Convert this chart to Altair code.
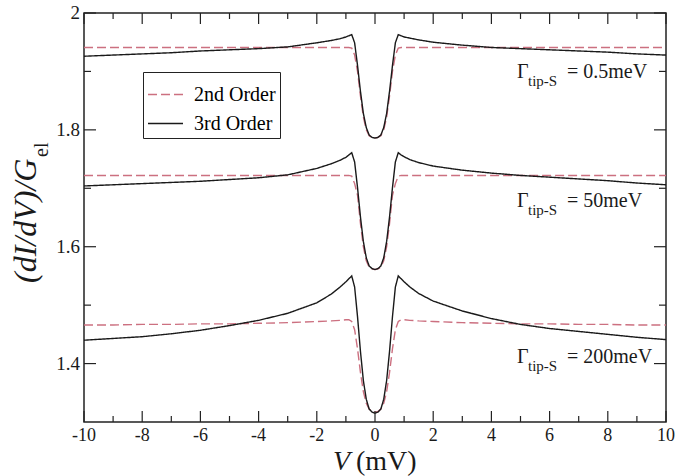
import altair as alt
import pandas as pd

# ---------------- data ----------------
V = [-10, -9, -8, -7, -6, -5, -4, -3, -2, -1.5, -1.2, -1, -0.9, -0.8, -0.7, -0.6, -0.5, -0.4, -0.3, -0.2, -0.1, 0,
     0.1, 0.2, 0.3, 0.4, 0.5, 0.6, 0.7, 0.8, 0.9, 1, 1.2, 1.5, 2, 3, 4, 5, 6, 7, 8, 9, 10]

# Gamma_tip-S = 0.5 meV
g05_3rd = [1.926, 1.928, 1.930, 1.932, 1.935, 1.937, 1.939, 1.942, 1.949, 1.953, 1.956, 1.959, 1.961, 1.963,
           1.949, 1.910, 1.866, 1.828, 1.804, 1.791, 1.787, 1.786,
           1.787, 1.791, 1.804, 1.828, 1.866, 1.910, 1.949,
           1.963, 1.961, 1.959, 1.957, 1.954, 1.950, 1.945, 1.941, 1.939, 1.937, 1.935, 1.933, 1.930, 1.928]
g05_2nd = [1.941, 1.941, 1.941, 1.941, 1.941, 1.941, 1.941, 1.941, 1.941, 1.941, 1.941, 1.941, 1.941, 1.940,
           1.928, 1.900, 1.858, 1.822, 1.800, 1.790, 1.787, 1.786,
           1.787, 1.790, 1.800, 1.822, 1.858, 1.900, 1.928,
           1.940, 1.941, 1.941, 1.941, 1.941, 1.941, 1.941, 1.941, 1.941, 1.941, 1.941, 1.941, 1.941, 1.941]

# Gamma_tip-S = 50 meV
g50_3rd = [1.704, 1.706, 1.708, 1.710, 1.712, 1.715, 1.718, 1.723, 1.734, 1.742, 1.748, 1.753, 1.757, 1.761,
           1.745, 1.701, 1.651, 1.609, 1.581, 1.567, 1.5625, 1.561,
           1.5625, 1.567, 1.581, 1.609, 1.651, 1.701, 1.745,
           1.761, 1.757, 1.754, 1.749, 1.744, 1.738, 1.731, 1.726, 1.722, 1.719, 1.716, 1.713, 1.709, 1.706]
g50_2nd = [1.722, 1.722, 1.722, 1.722, 1.722, 1.722, 1.722, 1.722, 1.722, 1.722, 1.722, 1.722, 1.722, 1.721,
           1.708, 1.688, 1.640, 1.600, 1.576, 1.565, 1.562, 1.561,
           1.562, 1.565, 1.576, 1.600, 1.640, 1.688, 1.708,
           1.721, 1.722, 1.722, 1.722, 1.722, 1.722, 1.722, 1.722, 1.722, 1.722, 1.722, 1.722, 1.722, 1.722]

# Gamma_tip-S = 200 meV
g200_3rd = [1.440, 1.443, 1.446, 1.451, 1.457, 1.465, 1.474, 1.486, 1.504, 1.519, 1.531, 1.540, 1.545, 1.550,
            1.531, 1.480, 1.421, 1.371, 1.339, 1.322, 1.317, 1.315,
            1.317, 1.322, 1.339, 1.371, 1.421, 1.480, 1.531,
            1.550, 1.545, 1.540, 1.531, 1.520, 1.507, 1.490, 1.477, 1.467, 1.460, 1.455, 1.450, 1.445, 1.441]
g200_2nd = [1.466, 1.466, 1.467, 1.467, 1.468, 1.468, 1.469, 1.470, 1.472, 1.473, 1.474, 1.475, 1.475, 1.472,
            1.458, 1.425, 1.385, 1.352, 1.332, 1.322, 1.318, 1.317,
            1.318, 1.322, 1.332, 1.352, 1.385, 1.425, 1.458,
            1.472, 1.475, 1.475, 1.474, 1.473, 1.472, 1.470, 1.469, 1.468, 1.468, 1.467, 1.467, 1.466, 1.466]

orders = ["2nd Order", "3rd Order"]
gammas = ["0.5", "50", "200"]

# annotation labels
ann_main = ["= 0.5meV", "= 50meV", "= 200meV"]
ann_x = [4.88, 4.88, 4.88]
ann_y = [1.889, 1.668, 1.401]

# tick positions and tick labels
x_major = [-10, -8, -6, -4, -2, 0, 2, 4, 6, 8, 10]
x_labels = ["-10", "-8", "-6", "-4", "-2", "0", "2", "4", "6", "8", "10"]
x_minor = [-9, -7, -5, -3, -1, 1, 3, 5, 7, 9]
y_major = [1.4, 1.6, 1.8, 2.0]
y_labels = ["1.4", "1.6", "1.8", "2"]
y_minor = [1.5, 1.7, 1.9]

# ---------------- build tables ----------------
rows = []
for g, s2, s3 in zip(gammas, [g05_2nd, g50_2nd, g200_2nd], [g05_3rd, g50_3rd, g200_3rd]):
    for v, a in zip(V, s2):
        rows.append({"V": v, "val": a, "order": "2nd Order", "gamma": g})
    for v, a in zip(V, s3):
        rows.append({"V": v, "val": a, "order": "3rd Order", "gamma": g})
df = pd.DataFrame(rows)

W, H = 582, 409
FONT = "Liberation Serif"
PINK = "#cc7080"
INK = "#1a1a1a"

xs = alt.Scale(domain=[-10, 10], nice=False, zero=False)
ys = alt.Scale(domain=[1.3, 2.0], nice=False, zero=False)

leg = alt.Legend(
    title=None, orient="none", legendX=59, legendY=59,
    fillColor="white", strokeColor="#222", padding=4,
    symbolType="stroke", symbolSize=1225, symbolStrokeWidth=1.5,
    labelFont=FONT, labelFontSize=20, labelColor="black", labelOffset=10,
    rowPadding=0, labelExpr="datum.label + '   '",
)
color = alt.Color("order:N", scale=alt.Scale(domain=orders, range=[PINK, INK]), legend=leg)
dash = alt.StrokeDash("order:N", scale=alt.Scale(domain=orders, range=[[9, 4], [1, 0]]), legend=leg)


def X(field):
    return alt.X(field, scale=xs, axis=None)


def Y(field):
    return alt.Y(field, scale=ys, axis=None)


base = alt.Chart(df)
dashed = base.transform_filter(alt.datum.order == "2nd Order").mark_line(strokeWidth=1.4, clip=True).encode(
    x=X("V:Q"), y=Y("val:Q"),
    color=color, strokeDash=dash, detail="gamma:N", order="V:Q",
)
solid = base.transform_filter(alt.datum.order == "3rd Order").mark_line(strokeWidth=1.4, clip=True).encode(
    x=X("V:Q"), y=Y("val:Q"),
    color=color, strokeDash=dash, detail="gamma:N", order="V:Q",
)

# inward ticks on all four sides
xmaj = alt.Chart(pd.DataFrame({"t": x_major, "lab": x_labels}))
xmin = alt.Chart(pd.DataFrame({"t": x_minor}))
ymaj = alt.Chart(pd.DataFrame({"t": y_major, "lab": y_labels}))
ymin = alt.Chart(pd.DataFrame({"t": y_minor}))
tick_style = dict(color="#222", strokeWidth=1.2)
ticks = [
    xmaj.mark_rule(**tick_style).encode(x=X("t:Q"), y=alt.value(H), y2=alt.value(H - 11)),
    xmaj.mark_rule(**tick_style).encode(x=X("t:Q"), y=alt.value(0), y2=alt.value(11)),
    xmin.mark_rule(**tick_style).encode(x=X("t:Q"), y=alt.value(H), y2=alt.value(H - 6)),
    xmin.mark_rule(**tick_style).encode(x=X("t:Q"), y=alt.value(0), y2=alt.value(6)),
    ymaj.mark_rule(**tick_style).encode(y=Y("t:Q"), x=alt.value(0), x2=alt.value(12)),
    ymaj.mark_rule(**tick_style).encode(y=Y("t:Q"), x=alt.value(W), x2=alt.value(W - 12)),
    ymin.mark_rule(**tick_style).encode(y=Y("t:Q"), x=alt.value(0), x2=alt.value(7)),
    ymin.mark_rule(**tick_style).encode(y=Y("t:Q"), x=alt.value(W), x2=alt.value(W - 7)),
]

# tick labels
tick_labels = [
    xmaj.mark_text(font=FONT, fontSize=18, align="center", baseline="alphabetic", color=INK).encode(
        x=X("t:Q"), y=alt.value(H + 19), text="lab:N"),
    ymaj.mark_text(font=FONT, fontSize=19, align="right", baseline="middle", color=INK).encode(
        y=Y("t:Q"), x=alt.value(-4), text="lab:N"),
]

# annotations
ann_df = pd.DataFrame({"x": ann_x, "y": ann_y, "main": ann_main, "g": ["Γ"] * 3, "sub": ["tip-S"] * 3})
ann = alt.Chart(ann_df)
ann_layers = [
    ann.mark_text(font=FONT, fontSize=20, align="left", baseline="alphabetic", color=INK).encode(
        x=X("x:Q"), y=Y("y:Q"), text="g:N"),
    ann.mark_text(font=FONT, fontSize=15, align="left", baseline="alphabetic", color=INK, dx=11, dy=8).encode(
        x=X("x:Q"), y=Y("y:Q"), text="sub:N"),
    ann.mark_text(font=FONT, fontSize=20, align="left", baseline="alphabetic", color=INK, dx=50).encode(
        x=X("x:Q"), y=Y("y:Q"), text="main:N"),
]

# axis titles as text
xt1 = alt.Chart(pd.DataFrame({"t": ["V"]})).mark_text(
    font=FONT, fontSize=28, fontStyle="italic", align="left", baseline="alphabetic", color=INK
).encode(text="t:N", x=alt.value(249), y=alt.value(457))
xt2 = alt.Chart(pd.DataFrame({"t": ["(mV)"]})).mark_text(
    font=FONT, fontSize=28, align="left", baseline="alphabetic", color=INK
).encode(text="t:N", x=alt.value(272), y=alt.value(457))
yt1 = alt.Chart(pd.DataFrame({"t": ["(dI/dV)/G"]})).mark_text(
    font=FONT, fontSize=32, fontStyle="italic", align="left", baseline="alphabetic", angle=270, color=INK
).encode(text="t:N", x=alt.value(-48), y=alt.value(270))
yt2 = alt.Chart(pd.DataFrame({"t": ["el"]})).mark_text(
    font=FONT, fontSize=20, align="left", baseline="alphabetic", angle=270, color=INK
).encode(text="t:N", x=alt.value(-36), y=alt.value(144))

chart = alt.layer(
    dashed, solid, *ticks, *tick_labels, *ann_layers, xt1, xt2, yt1, yt2
).properties(
    width=W, height=H,
    autosize=alt.AutoSizeParams(type="none"),
    padding={"left": 84, "top": 13, "right": 11, "bottom": 54},
    background="white",
).configure_view(
    stroke="#222", strokeWidth=1.5
)

chart.save("out.html", embed_options={"renderer": "svg", "actions": False})
